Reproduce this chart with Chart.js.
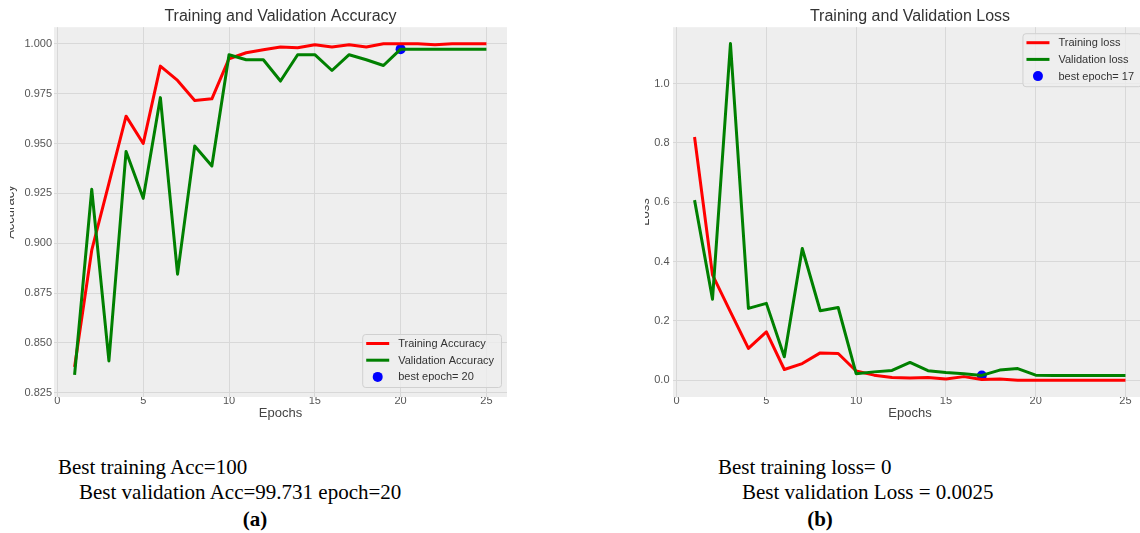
<!DOCTYPE html>
<html><head><meta charset="utf-8">
<script src="https://cdn.jsdelivr.net/npm/chart.js@4.4.0/dist/chart.umd.min.js"></script>
<style>
html,body{margin:0;padding:0;background:#fff;}
body{width:1140px;height:533px;overflow:hidden;position:relative;}
#accCanvas{position:absolute;left:0;top:0;clip-path:inset(0 0 0 10px);}
#lossCanvas{position:absolute;left:620px;top:0;clip-path:inset(0 0 0 25px);}
.cap{position:absolute;font-family:'Liberation Serif','Times New Roman',serif;font-size:21px;line-height:21px;color:#000;white-space:nowrap;}
.lbl{font-weight:bold;transform:translateX(-50%);}
</style></head><body>
<canvas id="accCanvas" width="512" height="425"></canvas>
<canvas id="lossCanvas" width="532" height="425"></canvas>
<div class="cap" style="left:58px;top:457px">Best training Acc=100</div>
<div class="cap" style="left:79px;top:482px">Best validation Acc=99.731 epoch=20</div>
<div class="cap lbl" style="left:255px;top:509px">(a)</div>
<div class="cap" style="left:718px;top:457px">Best training loss= 0</div>
<div class="cap" style="left:742px;top:482px">Best validation Loss = 0.0025</div>
<div class="cap lbl" style="left:820px;top:509px">(b)</div>
<script>
// ---- data ----
const epochs = [1,2,3,4,5,6,7,8,9,10,11,12,13,14,15,16,17,18,19,20,21,22,23,24,25];
const trainAcc = [0.838,0.8965,0.930,0.9637,0.950,0.9888,0.9816,0.9716,0.9724,0.9925,0.9955,0.997,0.9984,0.998,0.9995,0.9984,0.9995,0.9984,1.0,1.0,1.0,0.9995,1.0,1.0,1.0];
const valAcc = [0.834,0.927,0.841,0.946,0.9225,0.973,0.8845,0.9487,0.9387,0.9945,0.992,0.992,0.9813,0.9945,0.9945,0.9866,0.9945,0.992,0.9891,0.9973,0.9973,0.9973,0.9973,0.9973,0.9973];
const trainLoss = [0.82,0.355,0.23,0.107,0.163,0.036,0.056,0.092,0.09,0.031,0.017,0.009,0.007,0.009,0.004,0.012,0.002,0.004,0.0,0.0,0.0,0.0,0.0,0.0,0.0];
const valLoss = [0.607,0.273,1.135,0.242,0.259,0.079,0.444,0.234,0.245,0.022,0.028,0.033,0.06,0.032,0.026,0.022,0.016,0.034,0.039,0.017,0.016,0.016,0.016,0.016,0.016];
const bestAccEpoch = 20, bestAccValue = 0.9973;
const bestLossEpoch = 17, bestLossValue = 0.016;
const xTicks = [0,5,10,15,20,25];
const xTickLabels = ['0','5','10','15','20','25'];
const accTicks = [0.825,0.850,0.875,0.900,0.925,0.950,0.975,1.000];
const accTickLabels = ['0.825','0.850','0.875','0.900','0.925','0.950','0.975','1.000'];
const lossTicks = [0.0,0.2,0.4,0.6,0.8,1.0];
const lossTickLabels = ['0.0','0.2','0.4','0.6','0.8','1.0'];

const FONT = "'Liberation Sans', Arial, sans-serif";
const toXY = (xs, ys) => xs.map((x, i) => ({x: x, y: ys[i]}));

const bgPlugin = {
  id: 'plotBg',
  beforeDraw(chart) {
    const {ctx, chartArea: a} = chart;
    ctx.save();
    ctx.fillStyle = '#eeeeee';
    ctx.fillRect(a.left, a.top, a.right - a.left, a.bottom - a.top);
    ctx.restore();
  }
};

const legendBoxPlugin = {
  id: 'legendBox',
  afterDraw(chart, args, opts) {
    const {ctx, chartArea: a} = chart;
    ctx.save();
    ctx.font = '11px ' + FONT;
    const items = chart.data.datasets;
    const maxW = Math.max(...items.map(d => ctx.measureText(d.label).width));
    const w = 36 + maxW + 7, h = 53;
    const right = a.right - opts.dx;
    const left = right - w;
    const top = opts.corner === 'lowerRight' ? a.bottom - opts.dy - h : a.top + opts.dy;
    ctx.beginPath();
    ctx.roundRect(left + 0.5, top + 0.5, w, h, 3);
    ctx.fillStyle = 'rgba(238,238,238,0.8)';
    ctx.fill();
    ctx.strokeStyle = '#d0d0d0';
    ctx.lineWidth = 1;
    ctx.stroke();
    items.forEach((d, i) => {
      const y = top + 9.5 + i * 16.7;
      if (d.showLine === false) {
        ctx.beginPath();
        ctx.arc(left + 15.5, y, 5, 0, Math.PI * 2);
        ctx.fillStyle = d.pointBackgroundColor;
        ctx.fill();
      } else {
        ctx.beginPath();
        ctx.moveTo(left + 4, y);
        ctx.lineTo(left + 27, y);
        ctx.strokeStyle = d.borderColor;
        ctx.lineWidth = 3;
        ctx.stroke();
      }
      ctx.fillStyle = '#333';
      ctx.textBaseline = 'middle';
      ctx.textAlign = 'left';
      ctx.fillText(d.label, left + 36, y + 0.5);
    });
    ctx.restore();
  }
};

function makeChart(id, cfg) {
  return new Chart(document.getElementById(id), {
    type: 'line',
    data: {
      datasets: [
        {label: cfg.trainLabel, data: toXY(epochs, cfg.train), borderColor: '#ff0000', backgroundColor: '#ff0000', borderWidth: 3, pointRadius: 0, tension: 0, borderJoinStyle: 'round', order: 1},
        {label: cfg.valLabel, data: toXY(epochs, cfg.val), borderColor: '#008000', backgroundColor: '#008000', borderWidth: 3, pointRadius: 0, tension: 0, borderJoinStyle: 'round', order: 0},
        {label: cfg.bestLabel, data: [{x: cfg.bestX, y: cfg.bestY}], showLine: false, pointRadius: 5, pointBackgroundColor: '#0000ff', pointBorderWidth: 0, borderColor: '#0000ff', backgroundColor: '#0000ff', order: 2}
      ]
    },
    options: {
      responsive: false,
      animation: false,
      events: [],
      layout: {padding: {left: 0, right: cfg.padRight, top: 0, bottom: 0}},
      plugins: {
        legend: {display: false},
        tooltip: {enabled: false},
        title: {display: true, text: cfg.title, fullSize: false, color: '#333', font: {family: FONT, size: 16, weight: 'normal'}, padding: {top: 7, bottom: 1}},
        legendBox: cfg.legend
      },
      scales: {
        x: {
          type: 'linear', min: -0.2, max: 26.2,
          afterBuildTicks: s => { s.ticks = xTicks.map(v => ({value: v})); },
          afterFit: s => { s.height = 28; },
          ticks: {padding: -3, color: '#555', font: {family: FONT, size: 11}, callback: (v, i) => xTickLabels[i]},
          grid: {color: '#d8d8d8', lineWidth: 1, drawTicks: false},
          border: {display: false},
          title: {display: true, text: 'Epochs', color: '#444', font: {family: FONT, size: 13}, padding: {top: 0, bottom: 4}}
        },
        y: {
          type: 'linear', min: cfg.yMin, max: cfg.yMax,
          afterBuildTicks: s => { s.ticks = cfg.yTicks.map(v => ({value: v})); },
          afterFit: s => { s.width = cfg.yWidth; },
          ticks: {padding: cfg.yPad, color: '#555', font: {family: FONT, size: 11}, callback: (v, i) => cfg.yLabels[i]},
          grid: {color: '#d8d8d8', lineWidth: 1, drawTicks: false},
          border: {display: false},
          title: {display: true, text: cfg.yTitle, color: '#444', font: {family: FONT, size: 13}, padding: {top: cfg.yTitlePad, bottom: 0}}
        }
      }
    },
    plugins: [bgPlugin, legendBoxPlugin]
  });
}

makeChart('accCanvas', {
  title: 'Training and Validation Accuracy',
  trainLabel: 'Training Accuracy', valLabel: 'Validation Accuracy', bestLabel: 'best epoch= ' + bestAccEpoch,
  train: trainAcc, val: valAcc, bestX: bestAccEpoch, bestY: bestAccValue,
  yMin: 0.8229, yMax: 1.0083, yTicks: accTicks, yLabels: accTickLabels,
  yWidth: 54, yPad: 2, yTitle: 'Accuracy', yTitlePad: 2.2, padRight: 4.5,
  legend: {corner: 'lowerRight', dx: 6, dy: 10}
});

makeChart('lossCanvas', {
  title: 'Training and Validation Loss',
  trainLabel: 'Training loss', valLabel: 'Validation loss', bestLabel: 'best epoch= ' + bestLossEpoch,
  train: trainLoss, val: valLoss, bestX: bestLossEpoch, bestY: bestLossValue,
  yMin: -0.0567, yMax: 1.19, yTicks: lossTicks, yLabels: lossTickLabels,
  yWidth: 53, yPad: 3.5, yTitle: 'Loss', yTitlePad: 17.7, padRight: 3,
  legend: {corner: 'upperRight', dx: 6, dy: 6}
});
</script>
</body></html>
